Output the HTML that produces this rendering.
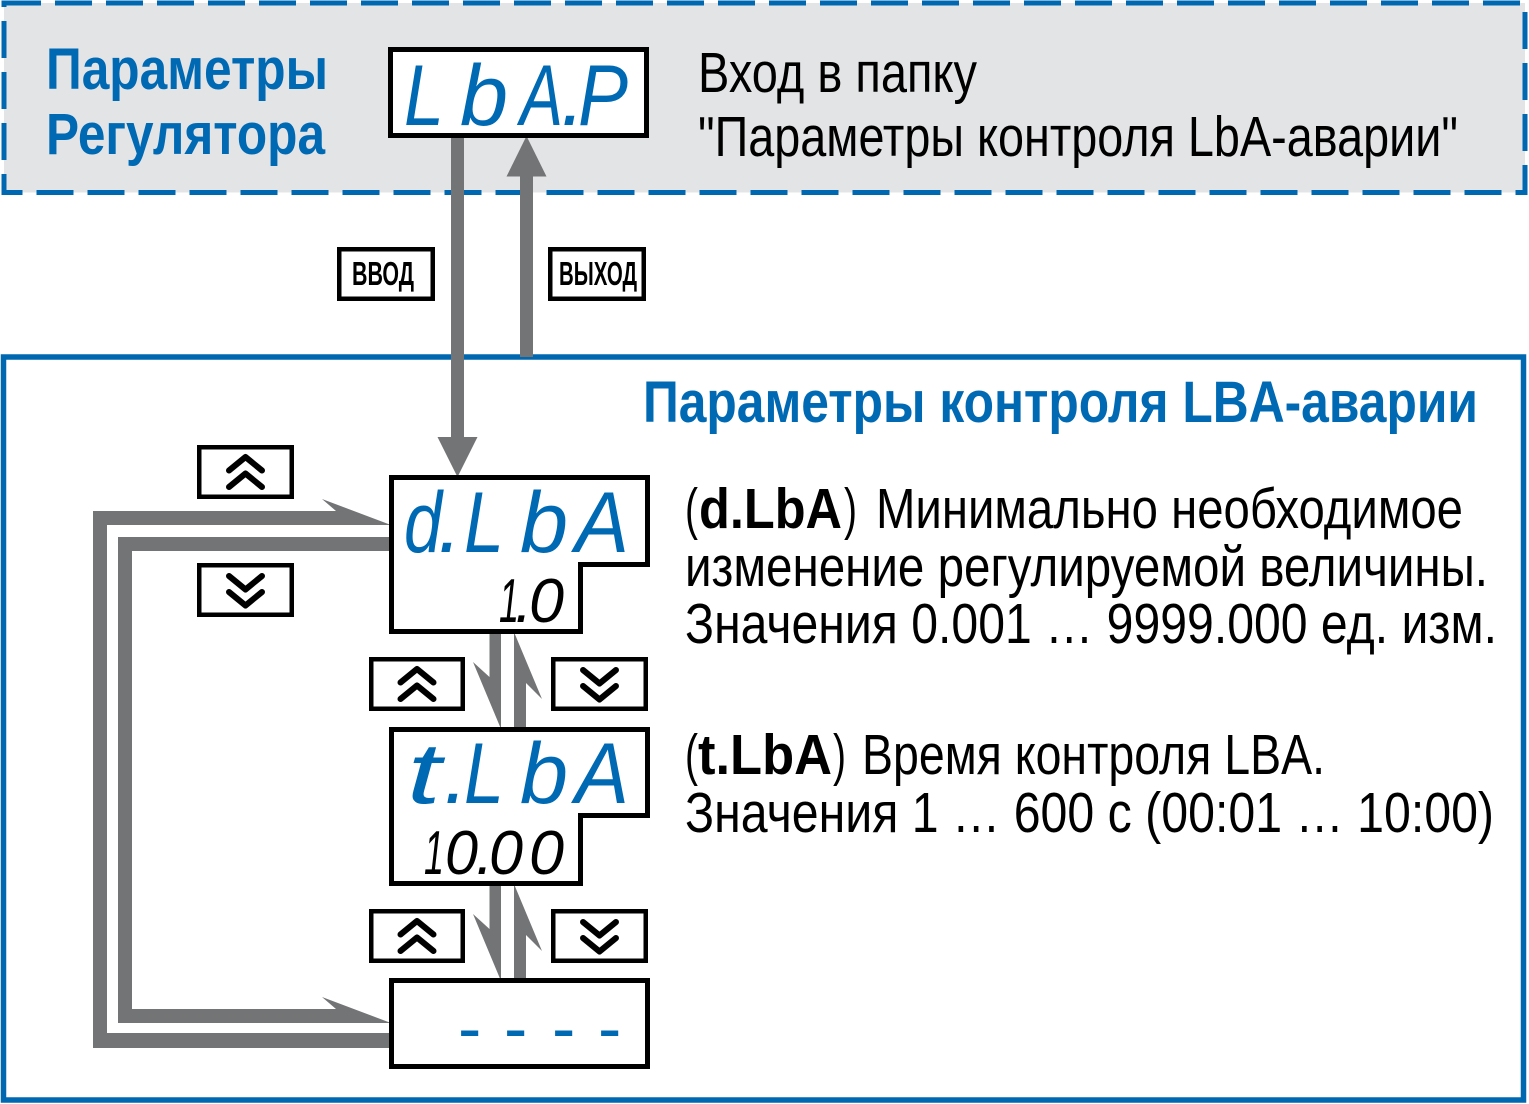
<!DOCTYPE html>
<html><head><meta charset="utf-8"><style>
html,body{margin:0;padding:0;background:#fff;}
svg{display:block;}
text{font-family:"Liberation Sans",sans-serif;}
</style></head><body>
<svg width="1529" height="1104" viewBox="0 0 1529 1104" xmlns="http://www.w3.org/2000/svg">
<!-- top dashed area -->
<rect x="4" y="3" width="1521" height="189.5" fill="#e3e4e6" stroke="#0068b0" stroke-width="5" stroke-dasharray="37 14"/>
<!-- bottom solid area -->
<rect x="3.5" y="357" width="1520" height="743" fill="#fff" stroke="#0068b0" stroke-width="5.5"/>

<!-- gray connectors -->
<g fill="#737476">
  <rect x="451" y="135" width="13" height="303"/>
  <polygon points="437.5,437 477.5,437 457.5,477"/>
  <rect x="520" y="175" width="13" height="182"/>
  <polygon points="506.5,176.5 546.5,176.5 526.5,136"/>
  <polygon points="93,511 336,511 322,499 391,525 107,525 107,1033 391,1033 391,1048 93,1048"/>
  <polygon points="118,537 391,537 391,551 132,551 132,1009 336,1009 322,997 391,1023 118,1023"/>
  <polygon points="489.5,632 501,632 501,729 473,662 489.5,677"/>
  <polygon points="514,632 542,699 526,683 526,729 514,729"/>
  <polygon points="489.5,884 501,884 501,981 473,914 489.5,929"/>
  <polygon points="514,884 542,951 526,935 526,981 514,981"/>
</g>

<!-- display boxes -->
<g fill="#fff" stroke="#000" stroke-width="5">
  <rect x="390.5" y="49.5" width="256" height="86"/>
  <path d="M391.5,477.5 H647.5 V564.5 H580.5 V631.5 H391.5 Z"/>
  <path d="M391.5,729.5 H647.5 V815.5 H580.5 V883.5 H391.5 Z"/>
  <rect x="391.5" y="980.5" width="256" height="86"/>
</g>

<!-- label boxes -->
<g fill="#fff" stroke="#000" stroke-width="4.5">
  <rect x="339.25" y="249.25" width="93.5" height="49.5"/>
  <rect x="550.25" y="249.25" width="93.5" height="49.5"/>
  <rect x="199.25" y="447.25" width="92.5" height="49.5"/>
  <rect x="199.25" y="565.25" width="92.5" height="49.5"/>
  <rect x="371.25" y="659.25" width="91.5" height="49.5"/>
  <rect x="553.25" y="659.25" width="92.5" height="49.5"/>
  <rect x="371.25" y="911.25" width="91.5" height="49.5"/>
  <rect x="553.25" y="911.25" width="92.5" height="49.5"/>
</g>

<!-- chevrons -->
<g fill="none" stroke="#000" stroke-width="6" stroke-linecap="round" stroke-linejoin="round">
  <path d="M229,470.5 L245.5,457 L262,470.5 M229,487 L245.5,473.5 L262,487"/>
  <path d="M229,576 L245.5,589.5 L262,576 M229,592 L245.5,605.5 L262,592"/>
  <path d="M400.5,682.5 L417,669 L433.5,682.5 M400.5,699 L417,685.5 L433.5,699"/>
  <path d="M583,670 L599.5,683.5 L616,670 M583,686 L599.5,699.5 L616,686"/>
  <path d="M400.5,934.5 L417,921 L433.5,934.5 M400.5,951 L417,937.5 L433.5,951"/>
  <path d="M583,922 L599.5,935.5 L616,922 M583,938 L599.5,951.5 L616,938"/>
</g>

<!-- display readings (blue) -->
<g fill="#0069b3" font-style="italic" font-size="86">
  <text x="404" y="125" textLength="40" lengthAdjust="spacingAndGlyphs">L</text>
  <text x="460" y="125" textLength="48" lengthAdjust="spacingAndGlyphs">b</text>
  <text x="520" y="125" textLength="43" lengthAdjust="spacingAndGlyphs">A</text>
  <text x="561" y="125">.</text>
  <text x="578" y="125" textLength="50" lengthAdjust="spacingAndGlyphs">P</text>

  <text x="404" y="552" textLength="38" lengthAdjust="spacingAndGlyphs">d</text>
  <text x="438" y="552">.</text>
  <text x="464" y="552" textLength="40" lengthAdjust="spacingAndGlyphs">L</text>
  <text x="520" y="552" textLength="48" lengthAdjust="spacingAndGlyphs">b</text>
  <text x="575" y="552" textLength="54" lengthAdjust="spacingAndGlyphs">A</text>

  <text x="407" y="803" textLength="34" lengthAdjust="spacingAndGlyphs">t</text>
  <text x="444" y="803">.</text>
  <text x="464" y="803" textLength="40" lengthAdjust="spacingAndGlyphs">L</text>
  <text x="520" y="803" textLength="48" lengthAdjust="spacingAndGlyphs">b</text>
  <text x="575" y="803" textLength="54" lengthAdjust="spacingAndGlyphs">A</text>
</g>
<!-- display readings (black) -->
<g fill="#000" font-style="italic" font-size="62">
  <text x="499" y="622" textLength="20" lengthAdjust="spacingAndGlyphs">1</text>
  <text x="515" y="622">.</text>
  <text x="529" y="622" textLength="35" lengthAdjust="spacingAndGlyphs">0</text>

  <text x="424" y="874" textLength="20" lengthAdjust="spacingAndGlyphs">1</text>
  <text x="445" y="874" textLength="33" lengthAdjust="spacingAndGlyphs">0</text>
  <text x="476" y="874">.</text>
  <text x="489" y="874" textLength="34" lengthAdjust="spacingAndGlyphs">0</text>
  <text x="529" y="874" textLength="35" lengthAdjust="spacingAndGlyphs">0</text>
</g>
<text y="1052" font-size="70" fill="#0069b3"><tspan x="458">-</tspan><tspan x="504">-</tspan><tspan x="552">-</tspan><tspan x="598">-</tspan></text>

<!-- button labels -->
<text x="352" y="285" font-size="33" font-weight="bold" textLength="62" lengthAdjust="spacingAndGlyphs">ВВОД</text>
<text x="559" y="285" font-size="33" font-weight="bold" textLength="78" lengthAdjust="spacingAndGlyphs">ВЫХОД</text>

<!-- headings -->
<g fill="#0069b3" font-weight="bold">
  <text x="46" y="89" font-size="58" textLength="282" lengthAdjust="spacingAndGlyphs">Параметры</text>
  <text x="46" y="154" font-size="58" textLength="279" lengthAdjust="spacingAndGlyphs">Регулятора</text>
  <text x="643" y="422" font-size="58" textLength="835" lengthAdjust="spacingAndGlyphs">Параметры контроля LBA-аварии</text>
</g>

<!-- top description -->
<g fill="#000" font-size="57">
  <text x="698" y="92" textLength="279" lengthAdjust="spacingAndGlyphs">Вход в папку</text>
  <text x="698" y="156" textLength="760" lengthAdjust="spacingAndGlyphs">"Параметры контроля LbA-аварии"</text>
</g>

<!-- parameter descriptions -->
<g fill="#000" font-size="57">
  <text x="685" y="528" textLength="13" lengthAdjust="spacingAndGlyphs">(</text>
  <text x="699" y="528" font-weight="bold" textLength="143" lengthAdjust="spacingAndGlyphs">d.LbA</text>
  <text x="844" y="528" textLength="13" lengthAdjust="spacingAndGlyphs">)</text>
  <text x="876" y="528" textLength="587" lengthAdjust="spacingAndGlyphs">Минимально необходимое</text>
  <text x="685" y="586" textLength="803" lengthAdjust="spacingAndGlyphs">изменение регулируемой величины.</text>
  <text x="685" y="643" textLength="812" lengthAdjust="spacingAndGlyphs">Значения 0.001 … 9999.000 ед. изм.</text>

  <text x="685" y="774" textLength="13" lengthAdjust="spacingAndGlyphs">(</text>
  <text x="698" y="774" font-weight="bold" textLength="134" lengthAdjust="spacingAndGlyphs">t.LbA</text>
  <text x="833" y="774" textLength="13" lengthAdjust="spacingAndGlyphs">)</text>
  <text x="862" y="774" textLength="463" lengthAdjust="spacingAndGlyphs">Время контроля LBA.</text>
  <text x="685" y="832" textLength="809" lengthAdjust="spacingAndGlyphs">Значения 1 … 600 с (00:01 … 10:00)</text>
</g>
</svg>
</body></html>
